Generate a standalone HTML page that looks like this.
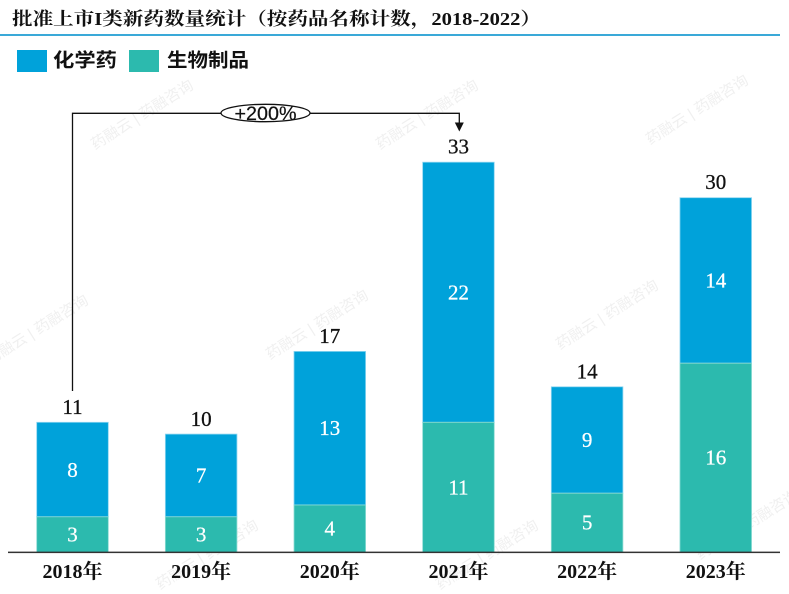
<!DOCTYPE html>
<html><head><meta charset="utf-8">
<style>
html,body{margin:0;padding:0;background:#fff;}
svg{display:block;}
</style></head>
<body>
<svg width="789" height="594" viewBox="0 0 789 594" xmlns="http://www.w3.org/2000/svg">
<rect width="789" height="594" fill="#fff"/>
<!-- watermarks -->
<g fill="#f0f0f0" font-family="'Liberation Sans','Noto Sans CJK SC',sans-serif" font-size="15">
<text transform="translate(95,150) rotate(-32)">药融云 | 药融咨询</text>
<text transform="translate(380,150) rotate(-32)">药融云 | 药融咨询</text>
<text transform="translate(650,145) rotate(-32)">药融云 | 药融咨询</text>
<text transform="translate(-10,365) rotate(-32)">药融云 | 药融咨询</text>
<text transform="translate(270,360) rotate(-32)">药融云 | 药融咨询</text>
<text transform="translate(560,350) rotate(-32)">药融云 | 药融咨询</text>
<text transform="translate(160,590) rotate(-32)">药融云 | 药融咨询</text>
<text transform="translate(440,590) rotate(-32)">药融云 | 药融咨询</text>
<text transform="translate(700,560) rotate(-32)">药融云 | 药融咨询</text>
</g>

<!-- title -->
<text x="12" y="19" dominant-baseline="central" font-family="'Liberation Serif','Noto Serif CJK SC',serif" font-weight="bold" font-size="18" fill="#111" textLength="529" lengthAdjust="spacingAndGlyphs">批准上市I类新药数量统计（按药品名称计数，2018-2022）</text>
<rect x="0" y="34" width="780" height="2" fill="#3aa9d8"/>

<!-- legend -->
<rect x="17" y="50" width="30" height="22" fill="#00a2da"/>
<text x="53" y="61" dominant-baseline="central" font-family="'Liberation Sans','Noto Sans CJK SC',sans-serif" font-weight="bold" font-size="19" fill="#111" textLength="64" lengthAdjust="spacingAndGlyphs">化学药</text>
<rect x="129" y="50" width="30" height="22" fill="#2cbaae"/>
<text x="167" y="61" dominant-baseline="central" font-family="'Liberation Sans','Noto Sans CJK SC',sans-serif" font-weight="bold" font-size="19" fill="#111" textLength="82" lengthAdjust="spacingAndGlyphs">生物制品</text>

<!-- annotation -->
<g stroke="#111" stroke-width="1.3" fill="none">
<polyline points="72.5,391 72.5,113.3 221,113.3"/>
<polyline points="310,113.3 459.3,113.3 459.3,123"/>
<ellipse cx="265.5" cy="113" rx="44.5" ry="8.7" fill="#fff"/>
</g>
<polygon points="454.8,122.5 463.8,122.5 459.3,131.5" fill="#111"/>
<text x="265.5" y="119.8" text-anchor="middle" font-family="'Liberation Sans',sans-serif" font-size="19" fill="#111" stroke="#111" stroke-width="0.2" textLength="62" lengthAdjust="spacingAndGlyphs">+200%</text>

<!-- bars -->
<g stroke-width="0.8">
<rect x="36.7" y="422.3" width="71.6" height="94.5" fill="#00a2da" stroke="#8fd6f0"/>
<rect x="36.7" y="516.8" width="71.6" height="35.5" fill="#2cbaae" stroke="#8fdcd4"/>
<rect x="165.35" y="434.1" width="71.6" height="82.7" fill="#00a2da" stroke="#8fd6f0"/>
<rect x="165.35" y="516.8" width="71.6" height="35.5" fill="#2cbaae" stroke="#8fdcd4"/>
<rect x="294" y="351.4" width="71.6" height="153.6" fill="#00a2da" stroke="#8fd6f0"/>
<rect x="294" y="505" width="71.6" height="47.3" fill="#2cbaae" stroke="#8fdcd4"/>
<rect x="422.65" y="162.2" width="71.6" height="260.1" fill="#00a2da" stroke="#8fd6f0"/>
<rect x="422.65" y="422.3" width="71.6" height="130" fill="#2cbaae" stroke="#8fdcd4"/>
<rect x="551.3" y="386.8" width="71.6" height="106.4" fill="#00a2da" stroke="#8fd6f0"/>
<rect x="551.3" y="493.2" width="71.6" height="59.1" fill="#2cbaae" stroke="#8fdcd4"/>
<rect x="679.95" y="197.7" width="71.6" height="165.5" fill="#00a2da" stroke="#8fd6f0"/>
<rect x="679.95" y="363.2" width="71.6" height="189.1" fill="#2cbaae" stroke="#8fdcd4"/>
</g>

<!-- axis -->
<rect x="8" y="551.6" width="772" height="1.5" fill="#333"/>

<!-- in-bar labels -->
<g fill="#fff" stroke="#fff" stroke-width="0.25" font-family="'Liberation Serif',serif" font-size="21" text-anchor="middle">
<text x="72.5" y="477">8</text>
<text x="72.5" y="541.5">3</text>
<text x="201.15" y="482.5">7</text>
<text x="201.15" y="541.5">3</text>
<text x="329.8" y="435.2">13</text>
<text x="329.8" y="535.6">4</text>
<text x="458.45" y="299.3">22</text>
<text x="458.45" y="494.3">11</text>
<text x="587.1" y="447">9</text>
<text x="587.1" y="529.7">5</text>
<text x="715.75" y="287.5">14</text>
<text x="715.75" y="464.7">16</text>
</g>

<!-- top labels -->
<g fill="#111" stroke="#111" stroke-width="0.3" font-family="'Liberation Serif',serif" font-size="21" text-anchor="middle">
<text x="72.5" y="414">11</text>
<text x="201.15" y="425.8">10</text>
<text x="329.8" y="343.1">17</text>
<text x="458.45" y="153.5">33</text>
<text x="587.1" y="378.5">14</text>
<text x="715.75" y="189.2">30</text>
</g>

<!-- x labels -->
<g fill="#111" font-family="'Liberation Serif','Noto Serif CJK SC',serif" font-size="20" font-weight="bold" text-anchor="middle">
<text x="72.5" y="578">2018年</text>
<text x="201.15" y="578">2019年</text>
<text x="329.8" y="578">2020年</text>
<text x="458.45" y="578">2021年</text>
<text x="587.1" y="578">2022年</text>
<text x="715.75" y="578">2023年</text>
</g>
</svg>
</body></html>
